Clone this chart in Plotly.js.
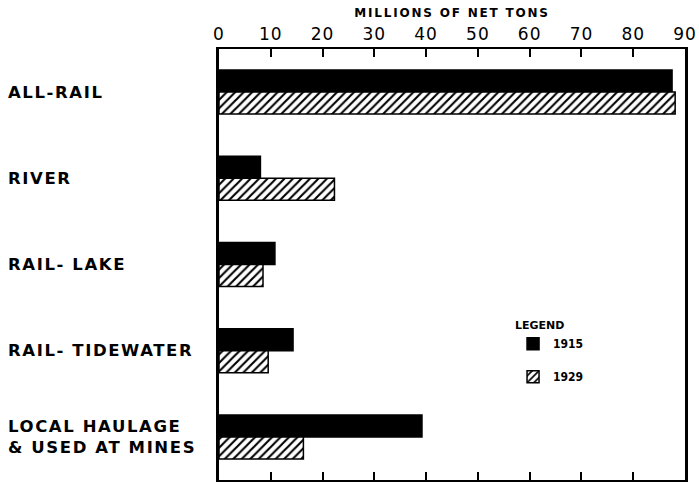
<!DOCTYPE html>
<html>
<head>
<meta charset="utf-8">
<script src="https://cdn.plot.ly/plotly-3.0.1.min.js"></script>
<style>
html,body{margin:0;padding:0;background:#fff;}
#chart{width:699px;height:485px;}
#chart .annotation-text{letter-spacing:1.6px;}
#chart .xtitle{letter-spacing:1.8px;}
#chart .xtick text{letter-spacing:1px;}
</style>
</head>
<body>
<div id="chart"></div>
<script>
var categories = ["ALL-RAIL", "RIVER", "RAIL- LAKE", "RAIL- TIDEWATER", "LOCAL HAULAGE<br>& USED AT MINES"];
var values1915 = [87.5, 8, 10.8, 14.3, 39.2];
var values1929 = [88.1, 22.3, 8.5, 9.5, 16.3];
var seriesNames = ["1915", "1929"];
var xTicks = [0, 10, 20, 30, 40, 50, 60, 70, 80, 90];

var trace1915 = {
  type: "bar", orientation: "h", name: seriesNames[0],
  y: categories, x: values1915, legendgroup: "a",
  marker: {color: "#000", line: {color: "#000", width: 1.5}},
  hoverinfo: "x+name"
};
var trace1929 = {
  type: "bar", orientation: "h", name: seriesNames[1],
  y: categories, x: values1929, legendgroup: "b",
  marker: {color: "#fff", line: {color: "#000", width: 1.5},
    pattern: {shape: "/", fgcolor: "#000", bgcolor: "#fff", size: 6, solidity: 0.35}},
  hoverinfo: "x+name"
};

var annotations = categories.map(function (c) {
  return {
    xref: "paper", yref: "y", x: -0.458, y: c, xanchor: "left", yanchor: "middle",
    align: "left", showarrow: false, text: c,
    font: {family: "DejaVu Sans", size: 16.5, color: "#000", weight: "bold"}
  };
});

var layout = {
  width: 699, height: 485,
  margin: {l: 219, r: 14, t: 49, b: 5},
  paper_bgcolor: "#fff", plot_bgcolor: "#fff",
  barmode: "group", bargap: 0.49, bargroupgap: 0,
  showlegend: true,
  legend: {
    x: 0.631, y: 0.383, xanchor: "left", yanchor: "top",
    traceorder: "grouped", tracegroupgap: 14,
    title: {text: "<b>LEGEND</b>", side: "top", font: {family: "DejaVu Sans", size: 11, color: "#000"}},
    font: {family: "DejaVu Sans Condensed, DejaVu Sans", size: 12, color: "#000", weight: "bold"},
    bgcolor: "rgba(0,0,0,0)"
  },
  xaxis: {
    side: "top", range: [0, 90], tickvals: xTicks, ticktext: xTicks.map(String),
    ticks: "inside", ticklen: 8, tickwidth: 2, tickcolor: "#000",
    showline: true, linewidth: 2, linecolor: "#000", mirror: "ticks",
    showgrid: false, zeroline: false,
    tickfont: {family: "DejaVu Sans", size: 17, color: "#000"},
    title: {text: "<b>MILLIONS OF NET TONS</b>", standoff: 4,
      font: {family: "DejaVu Sans", size: 12, color: "#000"}}
  },
  yaxis: {
    type: "category", categoryorder: "array", categoryarray: categories,
    range: [4.5, -0.5], showticklabels: false, ticks: "",
    showline: true, linewidth: 3, linecolor: "#000", mirror: true,
    showgrid: false, zeroline: false
  },
  annotations: annotations
};

Plotly.newPlot("chart", [trace1915, trace1929], layout, {displayModeBar: false, staticPlot: true});
</script>
</body>
</html>
